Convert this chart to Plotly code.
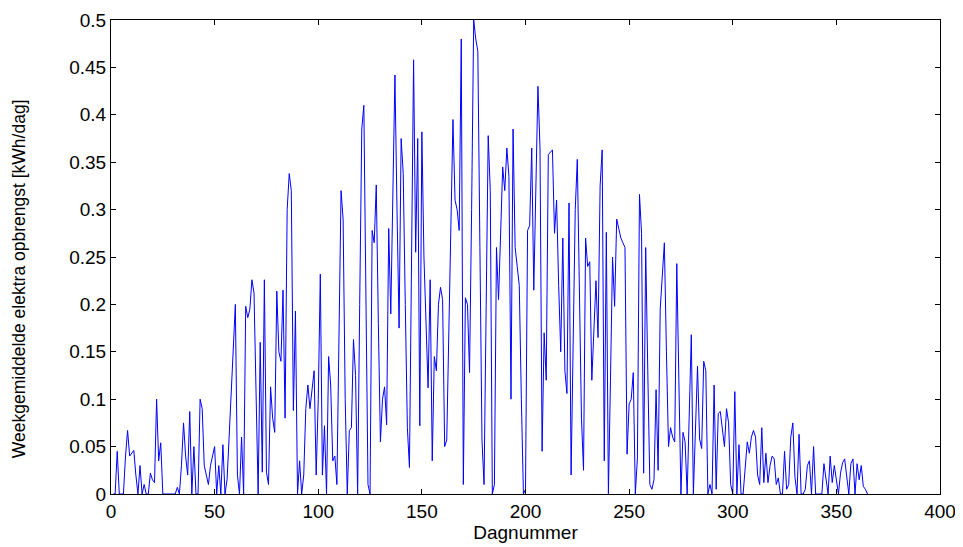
import plotly.graph_objects as go

# Daily values (day 1..365)
waarden = [
    0, 0, 0.045, 0, 0, 0, 0.04, 0.067, 0.04, 0.043,            # 1-10
    0.046, 0.02, 0, 0.03, 0, 0.01, 0, 0, 0.022, 0.015,         # 11-20
    0.012, 0.1, 0.035, 0.054, 0, 0, 0, 0, 0, 0,                # 21-30
    0, 0.007, 0, 0.03, 0.075, 0.04, 0.02, 0.087, 0, 0.05,      # 31-40
    0, 0, 0.1, 0.09, 0.03, 0.02, 0.01, 0.03, 0.04, 0.05,       # 41-50
    0, 0.03, 0, 0.052, 0, 0.015, 0.06, 0.11, 0.16, 0.2,        # 51-60
    0.02, 0, 0.06, 0, 0.198, 0.186, 0.195, 0.226, 0.212, 0.1,  # 61-70
    0, 0.16, 0.023, 0.226, 0.023, 0.01, 0.113, 0.08, 0.065, 0.214,  # 71-80
    0.15, 0.14, 0.215, 0.08, 0.3, 0.338, 0.32, 0.088, 0.193, 0,     # 81-90
    0.035, 0, 0.02, 0.09, 0.115, 0.09, 0.11, 0.13, 0.02, 0.1,       # 91-100
    0.232, 0.02, 0.072, 0, 0.145, 0.115, 0.035, 0.04, 0.01, 0.17,   # 101-110
    0.32, 0.29, 0.1, 0, 0.067, 0.07, 0.163, 0.125, 0, 0.2,          # 111-120
    0.385, 0.41, 0.2, 0.01, 0, 0.278, 0.265, 0.326, 0.18, 0.055,    # 121-130
    0.1, 0.113, 0.073, 0.28, 0.19, 0.3, 0.442, 0.3, 0.175, 0.375,   # 131-140
    0.338, 0.2, 0.07, 0.028, 0.25, 0.458, 0.255, 0.375, 0.072, 0.382,  # 141-150
    0.25, 0.18, 0.112, 0.226, 0.035, 0.145, 0.13, 0.2, 0.218, 0.205,   # 151-160
    0.05, 0.057, 0.17, 0.28, 0.395, 0.31, 0.3, 0.278, 0.48, 0.01,      # 161-170
    0.207, 0.2, 0.128, 0.3, 0.5, 0.48, 0.467, 0.26, 0.057, 0.01,       # 171-180
    0.17, 0.378, 0.32, 0, 0.01, 0.26, 0.205, 0.28, 0.345, 0.32,        # 181-190
    0.365, 0.335, 0.1, 0.385, 0.26, 0.24, 0.22, 0.1, 0, 0.005,         # 191-200
    0.278, 0.283, 0.365, 0.215, 0.32, 0.43, 0.365, 0.045, 0.17, 0.12,  # 201-210
    0.358, 0.36, 0.363, 0.275, 0.31, 0.22, 0.15, 0.27, 0.13, 0.106,    # 211-220
    0.307, 0.02, 0.15, 0.3, 0.353, 0.2, 0.08, 0.025, 0.27, 0.24,       # 221-230
    0.245, 0.12, 0.18, 0.225, 0.165, 0.325, 0.363, 0.035, 0.276, 0,    # 231-240
    0.12, 0.25, 0.198, 0.29, 0.28, 0.27, 0.265, 0.26, 0.042, 0.095,    # 241-250
    0.1, 0.128, 0, 0.038, 0.316, 0.275, 0.022, 0.26, 0.13, 0.01,       # 251-260
    0.005, 0.015, 0.11, 0.025, 0.195, 0.23, 0.265, 0.15, 0.05, 0.07,   # 261-270
    0.06, 0.055, 0.243, 0.12, 0, 0.065, 0.055, 0, 0.08, 0.168,         # 271-280
    0, 0.07, 0.135, 0.058, 0.048, 0.14, 0.13, 0, 0.01, 0,              # 281-290
    0.115, 0.005, 0.085, 0.087, 0.07, 0.05, 0.09, 0.075, 0.01, 0,      # 291-300
    0.108, 0, 0.052, 0, 0, 0.03, 0.055, 0.043, 0.06, 0.067,            # 301-310
    0.06, 0.02, 0.01, 0.07, 0.012, 0.043, 0.012, 0.03, 0.04, 0.037,    # 311-320
    0.01, 0.017, 0, 0, 0.045, 0.005, 0.01, 0.06, 0.075, 0.018,         # 321-330
    0, 0.063, 0, 0, 0.005, 0.03, 0.035, 0, 0.05, 0,                    # 331-340
    0, 0, 0, 0.032, 0.018, 0, 0.04, 0.012, 0.03, 0.015,                # 341-350
    0, 0.022, 0.033, 0.037, 0.018, 0, 0.032, 0.037, 0, 0.032,          # 351-360
    0.015, 0.03, 0.008, 0.005, 0,                                      # 361-365
]
dagen = list(range(1, len(waarden) + 1))

x_ticks = [0, 50, 100, 150, 200, 250, 300, 350, 400]
y_ticks = [0, 0.05, 0.1, 0.15, 0.2, 0.25, 0.3, 0.35, 0.4, 0.45, 0.5]
y_ticklabels = ["0", "0.05", "0.1", "0.15", "0.2", "0.25", "0.3", "0.35", "0.4", "0.45", "0.5"]

fig = go.Figure()
fig.add_trace(go.Scatter(
    x=dagen, y=waarden, mode="lines",
    line=dict(color="#0000ff", width=1),
    showlegend=False, hoverinfo="x+y",
))

axis_common = dict(
    showline=True, linecolor="black", linewidth=1, mirror="ticks",
    ticks="inside", ticklen=5, tickcolor="black", tickwidth=1,
    showgrid=False, zeroline=False, automargin=False,
    tickfont=dict(family="Liberation Sans, Arial, sans-serif", size=19, color="black"),
)

# The page body has an 8px margin, so the figure is sized/offset for that.
fig.update_layout(
    width=955, height=539,
    margin=dict(l=103, r=23, t=12, b=53),
    paper_bgcolor="white", plot_bgcolor="white",
    font=dict(family="Liberation Sans, Arial, sans-serif", color="black"),
    xaxis=dict(range=[0, 400], tickmode="array", tickvals=x_ticks,
               title=dict(text="Dagnummer", font=dict(size=19), standoff=0),
               **axis_common),
    yaxis=dict(range=[0, 0.5], tickmode="array", tickvals=y_ticks,
               ticktext=y_ticklabels, **axis_common),
    annotations=[dict(
        text="Weekgemiddelde elektra opbrengst [kWh/dag]",
        textangle=-90, xref="paper", yref="paper",
        x=-0.11, y=0.455, xanchor="center", yanchor="middle",
        showarrow=False, font=dict(size=17.5, color="black"),
    )],
)

fig.write_html("out.html")
